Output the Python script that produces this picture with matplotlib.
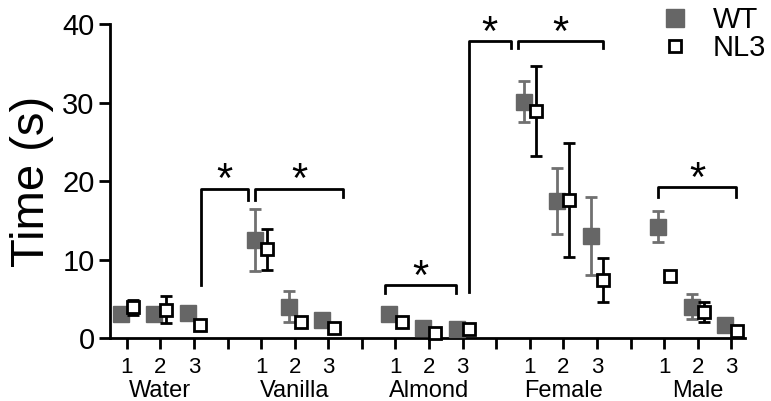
import numpy as np
import matplotlib
matplotlib.use("Agg")
import matplotlib.pyplot as plt
from matplotlib.lines import Line2D

plt.rcParams['font.family'] = ['Liberation Sans', 'DejaVu Sans']

groups = ["Water", "Vanilla", "Almond", "Female", "Male"]
trials = ["1", "2", "3"]

wt_mean = [3.1, 3.0, 3.2, 12.5, 4.0, 2.3, 3.1, 1.3, 1.1, 30.1, 17.5, 13.0, 14.2, 4.0, 1.6]
wt_err = [0.5, 0.8, 0.4, 4.0, 2.0, 0.4, 0.5, 0.3, 0.3, 2.6, 4.2, 5.0, 2.0, 1.6, 0.3]
nl3_mean = [3.9, 3.6, 1.7, 11.3, 2.0, 1.3, 2.1, 0.7, 1.1, 28.9, 17.6, 7.4, 7.9, 3.3, 0.9]
nl3_err = [1.0, 1.7, 0.4, 2.6, 0.3, 0.3, 0.4, 0.4, 0.4, 5.7, 7.3, 2.8, 0.6, 1.3, 0.3]

# significance brackets: left x, right x, top, left leg end, right leg end
brackets = [
    (3.2, 4.62, 19.0, 6.8, 17.6),
    (4.82, 7.45, 19.0, 17.6, 18.0),
    (8.7, 10.8, 6.75, 5.7, 5.7),
    (11.18, 12.43, 37.8, 5.9, 36.9),
    (12.66, 15.19, 37.8, 37.0, 37.0),
    (16.82, 19.15, 19.2, 18.0, 18.0),
]

# x positions: 3 trials per group, a blank slot between groups
pos = np.array([g * 4 + t + 1 for g in range(len(groups)) for t in range(3)])
off = 0.18

fig = plt.figure(figsize=(7.71, 4.01), dpi=100)
ax = fig.add_axes([0.1427, 0.157, 0.8233, 0.783])

grey = "#666666"
ax.errorbar(pos - off, wt_mean, yerr=wt_err, fmt="s", color=grey, ecolor="#707070",
            markersize=11, elinewidth=2, capsize=4, capthick=2, zorder=3,
            clip_on=False)
ax.errorbar(pos + off, nl3_mean, yerr=nl3_err, fmt="s", color="black", mfc="white",
            mec="black", mew=2, markersize=8, elinewidth=2, capsize=4, capthick=2,
            zorder=4, clip_on=False)

for xl, xr, top, yl, yr in brackets:
    ax.plot([xl, xl, xr, xr], [yl, top, top, yr], color="black", lw=2,
            clip_on=False, zorder=5)
    ax.text((xl + xr) / 2, top - 1.6, "*", ha="center", va="bottom",
            fontsize=30, clip_on=False)

ax.set_xlim(0.5, 19.4)
ax.set_ylim(0, 40)
ax.set_yticks([0, 10, 20, 30, 40])
ax.tick_params(axis="y", labelsize=21, width=2, length=8, direction="out", pad=3)
ticks = np.arange(1, 20)
ax.set_xticks(ticks)
ax.set_xticklabels(["" if t % 4 == 0 else trials[(t - 1) % 4] for t in ticks])
ax.tick_params(axis="x", labelsize=16, width=2, length=8, direction="out", pad=6)

for s in ["top", "right"]:
    ax.spines[s].set_visible(False)
for s in ["left", "bottom"]:
    ax.spines[s].set_linewidth(2)

ax.set_ylabel("Time (s)", fontsize=34, labelpad=6)

for g, name in enumerate(groups):
    ax.text(g * 4 + 2, -0.17, name, transform=ax.get_xaxis_transform(),
            ha="center", va="center", fontsize=17)

handles = [
    Line2D([], [], ls="none", marker="s", color=grey, markersize=13),
    Line2D([], [], ls="none", marker="s", mfc="white", mec="black", mew=2, markersize=9),
]
ax.legend(handles, ["WT", "NL3"], loc="upper right", bbox_to_anchor=(1.075, 1.14),
          frameon=False, fontsize=21, handletextpad=0.8, labelspacing=0.0,
          handlelength=1.0)

fig.savefig("out.png", dpi=100)
